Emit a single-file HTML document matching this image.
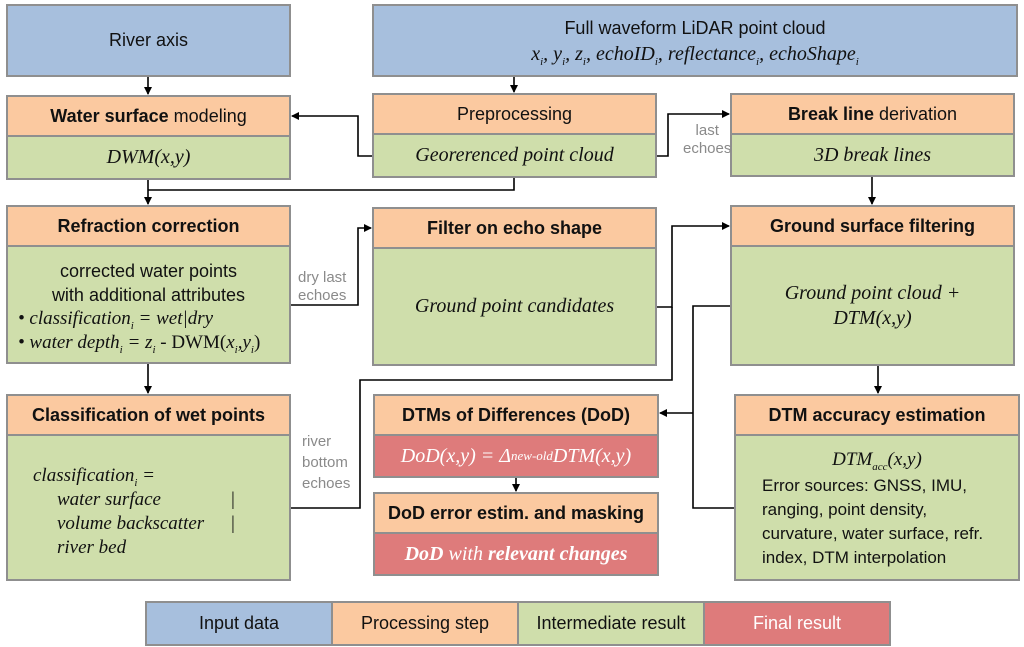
<!DOCTYPE html>
<html><head><meta charset="utf-8"><style>
body{margin:0;width:1024px;height:647px;background:#fff;position:relative;overflow:hidden;font-family:"Liberation Sans",sans-serif}
.b{position:absolute;box-sizing:border-box;border:2px solid #8f8f8f;display:flex;align-items:center;justify-content:center;text-align:center;color:#111}
.bl{background:#a7bfdd;font-size:18px}.or{background:#fbc9a0;font-size:18px}.gr{background:#cfdeab}.rd{background:#de7b7b;color:#fff}
.it{font-family:"Liberation Serif",serif;font-style:italic;font-size:20px}
sub{line-height:0;font-size:11px}
.lab{position:absolute;color:#8a8a8a;font-size:15px;line-height:18px}
svg{position:absolute;left:0;top:0}
</style></head><body>
<svg width="1024" height="647">
<defs><marker id="a" markerWidth="8" markerHeight="8" refX="7" refY="4" orient="auto" markerUnits="userSpaceOnUse"><path d="M0,0 L8,4 L0,8z" fill="#000"/></marker></defs>
<g stroke="#000" stroke-width="1.6" fill="none">
<path d="M148,76 V94" marker-end="url(#a)"/>
<path d="M514,76 V92" marker-end="url(#a)"/>
<path d="M372,156 H358 V116 H292" marker-end="url(#a)"/>
<path d="M656,156 H668 V114 H729" marker-end="url(#a)"/>
<path d="M514,177 V190 H148"/>
<path d="M148,179 V204" marker-end="url(#a)"/>
<path d="M290,305 H358 V228 H371" marker-end="url(#a)"/>
<path d="M656,307 H672 V226 H729" marker-end="url(#a)"/>
<path d="M672,307 V380 H360 V508 H290"/>
<path d="M730,306 H693 V508 H734"/>
<path d="M693,413 H660" marker-end="url(#a)"/>
<path d="M872,176 V204" marker-end="url(#a)"/>
<path d="M878,365 V393" marker-end="url(#a)"/>
<path d="M148,363 V393" marker-end="url(#a)"/>
<path d="M516,477 V491" marker-end="url(#a)"/>
</g></svg>

<div class="b bl" style="left:6px;top:4px;width:285px;height:73px">River axis</div>
<div class="b bl" style="left:372px;top:4px;width:646px;height:73px;flex-direction:column;line-height:26px"><div>Full waveform LiDAR point cloud</div><div class="it"><i>x<sub>i</sub>, y<sub>i</sub>, z<sub>i</sub>, echoID<sub>i</sub>, reflectance<sub>i</sub>, echoShape<sub>i</sub></i></div></div>

<div class="b or" style="left:6px;top:95px;width:285px;height:42px"><b>Water surface</b>&nbsp;modeling</div>
<div class="b gr it" style="left:6px;top:135px;width:285px;height:45px">DWM(x,y)</div>

<div class="b or" style="left:372px;top:93px;width:285px;height:42px">Preprocessing</div>
<div class="b gr it" style="left:372px;top:133px;width:285px;height:45px">Georerenced point cloud</div>

<div class="b or" style="left:730px;top:93px;width:285px;height:42px"><b>Break line</b>&nbsp;derivation</div>
<div class="b gr it" style="left:730px;top:133px;width:285px;height:44px">3D break lines</div>

<div class="b or" style="left:6px;top:205px;width:285px;height:42px"><b>Refraction correction</b></div>
<div class="b gr" style="left:6px;top:245px;width:285px;height:119px;display:block;text-align:left;padding:12px 0 0 10px;font-size:18px;line-height:24px">
<div style="text-align:center;margin-left:-10px">corrected water points<br>with additional attributes</div>
<div class="it" style="font-size:19px">• classification<sub>i</sub> = wet|dry</div>
<div class="it" style="font-size:19px">• water depth<sub>i</sub> = z<sub>i</sub> <span style="font-style:normal">- DWM(</span>x<sub>i</sub>,y<sub>i</sub><span style="font-style:normal">)</span></div>
</div>

<div class="b or" style="left:372px;top:207px;width:285px;height:42px"><b>Filter on echo shape</b></div>
<div class="b gr it" style="left:372px;top:247px;width:285px;height:119px">Ground point candidates</div>

<div class="b or" style="left:730px;top:205px;width:285px;height:42px"><b>Ground surface filtering</b></div>
<div class="b gr it" style="left:730px;top:245px;width:285px;height:121px;line-height:25px">Ground point cloud +<br>DTM(x,y)</div>

<div class="b or" style="left:6px;top:394px;width:285px;height:42px"><b>Classification of wet points</b></div>
<div class="b gr it" style="left:6px;top:434px;width:285px;height:147px;display:block;text-align:left;padding:28px 0 0 25px;font-size:19px;line-height:24px">
classification<sub>i</sub> =<br>
<span style="margin-left:24px">water surface</span><span style="position:absolute;left:222px">|</span><br>
<span style="margin-left:24px">volume backscatter</span><span style="position:absolute;left:222px">|</span><br>
<span style="margin-left:24px">river bed</span></div>

<div class="b or" style="left:373px;top:394px;width:286px;height:42px"><b>DTMs of Differences (DoD)</b></div>
<div class="b rd it" style="left:373px;top:434px;width:286px;height:44px">DoD(x,y) = Δ<sub style="font-size:13px">new-old</sub>DTM(x,y)</div>

<div class="b or" style="left:373px;top:492px;width:286px;height:42px"><b>DoD error estim. and masking</b></div>
<div class="b rd it" style="left:373px;top:532px;width:286px;height:44px"><b>DoD</b>&nbsp;with&nbsp;<b>relevant changes</b></div>

<div class="b or" style="left:734px;top:394px;width:286px;height:42px"><b>DTM accuracy estimation</b></div>
<div class="b gr" style="left:734px;top:434px;width:286px;height:147px;display:block;text-align:left;padding:12px 0 0 26px;font-size:17px;line-height:24px">
<div class="it" style="text-align:center;margin-left:-26px;font-size:19px;margin-bottom:2px">DTM<sub>acc</sub>(x,y)</div>
Error sources: GNSS, IMU,<br>ranging, point density,<br>curvature, water surface, refr.<br>index, DTM interpolation</div>

<div class="lab" style="left:683px;top:122px;text-align:center">last<br>echoes</div>
<div class="lab" style="left:298px;top:269px">dry last<br>echoes</div>
<div class="lab" style="left:302px;top:431px;line-height:21px">river<br>bottom<br>echoes</div>

<div class="b bl" style="left:145px;top:601px;width:188px;height:45px">Input data</div>
<div class="b or" style="left:331px;top:601px;width:188px;height:45px">Processing step</div>
<div class="b gr" style="left:517px;top:601px;width:188px;height:45px;font-size:18px">Intermediate result</div>
<div class="b rd" style="left:703px;top:601px;width:188px;height:45px;font-size:18px">Final result</div>
</body></html>
